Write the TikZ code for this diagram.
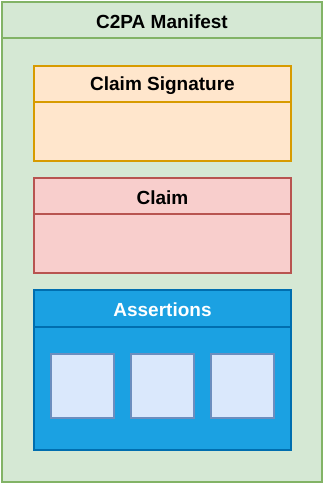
\documentclass[tikz,border=0pt]{standalone}
\usepackage{fontspec}
\setmainfont{Liberation Sans}
\usetikzlibrary{calc}
\definecolor{gfill}{HTML}{D5E8D4}\definecolor{gline}{HTML}{82B366}
\definecolor{ofill}{HTML}{FFE6CC}\definecolor{oline}{HTML}{D79B00}
\definecolor{rfill}{HTML}{F8CECC}\definecolor{rline}{HTML}{B85450}
\definecolor{bfill}{HTML}{1BA1E2}\definecolor{bline}{HTML}{006EAF}
\definecolor{lfill}{HTML}{DAE8FC}\definecolor{lline}{HTML}{6C8EBF}
\tikzset{
  box/.style={draw, line width=1.2pt, inner sep=0pt, outer sep=0pt, rectangle},
  ttl/.style={font=\fontsize{19}{21}\selectfont\bfseries, inner sep=0pt},
}
\begin{document}
\begin{tikzpicture}[x=1pt,y=-1pt]
\useasboundingbox (0,0) rectangle (325,485);
% outer container
\path[box, draw=gline, fill=gfill] (2,2) rectangle (322,482);
\coordinate (mL) at (2,38); \coordinate (mR) at (322,38);
\draw[gline, line width=1.2pt] (mL) -- (mR);
\node[ttl] (manifest) at (162,22) {C2PA Manifest};
% claim signature
\path[box, draw=oline, fill=ofill] (34,66) rectangle (291,161);
\coordinate (sL) at (34,102); \coordinate (sR) at (291,102);
\draw[oline, line width=1.2pt] (sL) -- (sR);
\node[ttl] (sig) at (162.5,86) {Claim Signature};
% claim
\path[box, draw=rline, fill=rfill] (34,178) rectangle (291,273);
\coordinate (cL) at (34,214); \coordinate (cR) at (291,214);
\draw[rline, line width=1.2pt] (cL) -- (cR);
\node[ttl] (claim) at (162.5,198) {Claim};
% assertions
\path[box, draw=bline, fill=bfill] (34,290) rectangle (291,450);
\coordinate (aL) at (34,327); \coordinate (aR) at (291,327);
\draw[bline, line width=1.2pt] (aL) -- (aR);
\node[ttl, text=white] (assert) at (162.5,310) {Assertions};
% assertion items
\node[box, draw=lline, fill=lfill, minimum width=63pt, minimum height=64pt] (a1) at (82.5,386) {};
\node[box, draw=lline, fill=lfill, minimum width=63pt, minimum height=64pt] (a2) at (162.5,386) {};
\node[box, draw=lline, fill=lfill, minimum width=63pt, minimum height=64pt] (a3) at (242.5,386) {};
\end{tikzpicture}
\end{document}
